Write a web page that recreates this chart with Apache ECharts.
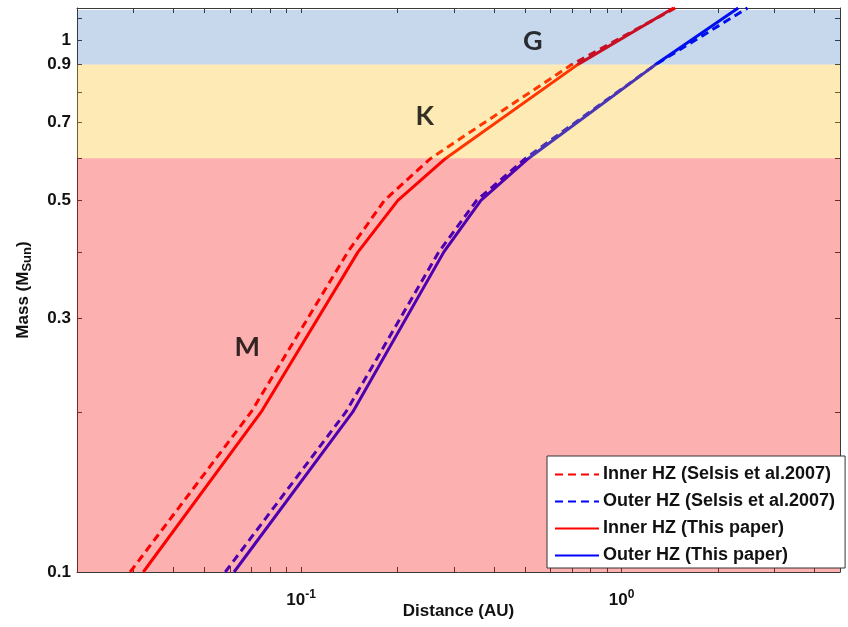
<!DOCTYPE html>
<html>
<head>
<meta charset="utf-8">
<script src="https://cdn.jsdelivr.net/npm/echarts@6/dist/echarts.min.js"></script>
<style>
  html, body { margin: 0; padding: 0; background: #ffffff; }
  #chart { width: 848px; height: 627px; }
</style>
</head>
<body>
<div id="chart"></div>
<script>
// Stellar mass (M_Sun) at each vertex of the habitable-zone boundaries
const massPoints = [0.1, 0.2, 0.4, 0.5, 0.6, 0.9, 1.15];

// Boundary distances (AU) at those masses
const innerSelsis    = [0.0293, 0.0699, 0.140, 0.182, 0.254, 0.699, 1.47];
const outerSelsis    = [0.0580, 0.138, 0.269, 0.353, 0.502, 1.276, 2.47];
const innerThisPaper = [0.0322, 0.0751, 0.1506, 0.2005, 0.283, 0.729, 1.452];
const outerThisPaper = [0.0618, 0.145, 0.279, 0.364, 0.513, 1.276, 2.31];

const seriesNames = [
  'Inner HZ (Selsis et al.2007)',
  'Outer HZ (Selsis et al.2007)',
  'Inner HZ (This paper)',
  'Outer HZ (This paper)'
];

// Spectral-type mass bands [lower, upper] and their letters
const bandRanges = [[0.1, 0.6], [0.6, 0.9], [0.9, 1.14]];
const bandLetters = ['M', 'K', 'G'];
const bandLetterPos = [[0.068, 0.265], [0.243, 0.72], [0.528, 0.995]];

// Axis ticks
const yLabelValues = [0.1, 0.3, 0.5, 0.7, 0.9, 1];
const yTickValues = [0.1, 0.2, 0.3, 0.4, 0.5, 0.6, 0.7, 0.8, 0.9, 1, 1.1];
const xLabelValues = [0.1, 1];
const xTickValues = [0.02, 0.03, 0.04, 0.05, 0.06, 0.07, 0.08, 0.09,
                     0.1, 0.2, 0.3, 0.4, 0.5, 0.6, 0.7, 0.8, 0.9,
                     1, 2, 3, 4];

const X_MIN = 0.02, X_MAX = 4.8, Y_MIN = 0.1, Y_MAX = 1.15;
const RED = '#ff0000', BLUE = '#0000ff';
// translucent washes laid over the curves
const bandColors = ['rgba(248,0,0,0.31)', 'rgba(252,184,0,0.294)', 'rgba(0,74,167,0.216)'];

const FONT = '"Liberation Sans", Arial, sans-serif';
const AXIS_COLOR = '#3a3a3a';
const TEXT_COLOR = '#111111';

function pairs(xs) {
  return xs.map((x, i) => [x, massPoints[i]]);
}

function lineSeries(name, xs, color, dashed) {
  return {
    name: name,
    type: 'line',
    data: pairs(xs),
    symbol: 'none',
    showSymbol: false,
    z: 3,
    lineStyle: { color: color, width: 3, type: dashed ? [8, 5] : 'solid' },
    itemStyle: { color: color },
    animation: false
  };
}

function tickAxis(position, isX) {
  const base = {
    type: 'log',
    logBase: 10,
    position: position,
    gridIndex: 0,
    axisLine: { show: true, lineStyle: { color: AXIS_COLOR, width: 1 } },
    axisTick: {
      show: true, inside: true, length: 5,
      customValues: isX ? xTickValues : yTickValues,
      lineStyle: { color: AXIS_COLOR, width: 1 }
    },
    axisLabel: { show: false },
    splitLine: { show: false }
  };
  if (isX) { base.min = X_MIN; base.max = X_MAX; }
  else { base.min = Y_MIN; base.max = Y_MAX; }
  return base;
}

const xBottom = tickAxis('bottom', true);
xBottom.axisLabel = {
  show: true,
  customValues: xLabelValues,
  margin: 17,
  formatter: v => '10{sup|' + Math.round(Math.log10(v)) + '}',
  rich: {
    sup: { fontSize: 12, fontWeight: 'bold', fontFamily: FONT, color: TEXT_COLOR, verticalAlign: 'top', padding: [0, 0, 10, 0] }
  },
  fontSize: 17, fontWeight: 'bold', fontFamily: FONT, color: TEXT_COLOR
};
xBottom.name = 'Distance (AU)';
xBottom.nameLocation = 'middle';
xBottom.nameGap = 31;
xBottom.nameMoveOverlap = false;
xBottom.nameTextStyle = { fontSize: 17, fontWeight: 'bold', fontFamily: FONT, color: TEXT_COLOR };

const xTop = tickAxis('top', true);

const yLeft = tickAxis('left', false);
yLeft.axisLabel = {
  show: true,
  customValues: yLabelValues,
  margin: 6,
  formatter: v => String(+Number(v).toFixed(2)),
  fontSize: 17, fontWeight: 'bold', fontFamily: FONT, color: TEXT_COLOR
};
yLeft.name = 'Mass (M{sub|Sun})';
yLeft.nameLocation = 'middle';
yLeft.nameGap = 43;
yLeft.nameRotate = 90;
yLeft.nameTextStyle = {
  fontSize: 17, fontWeight: 'bold', fontFamily: FONT, color: TEXT_COLOR,
  rich: { sub: { fontSize: 13, fontWeight: 'bold', fontFamily: FONT, color: TEXT_COLOR, verticalAlign: 'bottom', padding: [9, 0, 0, 0] } }
};

const yRight = tickAxis('right', false);

const option = {
  animation: false,
  backgroundColor: '#ffffff',
  grid: { left: 77, right: 8, top: 8, bottom: 55, containLabel: false, outerBoundsMode: 'none' },
  xAxis: [xBottom, xTop],
  yAxis: [yLeft, yRight],
  legend: {
    show: true,
    data: seriesNames,
    orient: 'vertical',
    left: 547,
    top: 456,
    z: 30,
    padding: [9, 10, 3, 7],
    itemGap: 8,
    itemWidth: 44,
    itemHeight: 2,
    itemStyle: { opacity: 0 },
    backgroundColor: '#ffffff',
    borderColor: '#333333',
    borderWidth: 1,
    borderRadius: 0,
    textStyle: { fontSize: 18, fontWeight: 'bold', fontFamily: FONT, color: TEXT_COLOR, lineHeight: 19, padding: [0, 0, 0, -1] },
    selectedMode: false
  },
  series: [
    lineSeries(seriesNames[0], innerSelsis, RED, true),
    lineSeries(seriesNames[1], outerSelsis, BLUE, true),
    lineSeries(seriesNames[2], innerThisPaper, RED, false),
    lineSeries(seriesNames[3], outerThisPaper, BLUE, false),
    {
      // spectral-type washes over the whole plot width
      type: 'custom',
      z: 10,
      silent: true,
      clip: true,
      data: bandRanges.map(r => [1, r[0], r[1]]),
      encode: { x: 0, y: [1, 2] },
      renderItem: function (params, api) {
        const cs = params.coordSys;
        const yLo = api.coord([1, api.value(1)])[1];
        const yHi = api.coord([1, api.value(2)])[1];
        return {
          type: 'rect',
          shape: { x: cs.x, y: yHi, width: cs.width, height: yLo - yHi },
          style: { fill: bandColors[params.dataIndex] }
        };
      }
    },
    {
      // spectral-type letters
      type: 'scatter',
      z: 20,
      silent: true,
      symbolSize: 2,
      itemStyle: { color: 'rgba(0,0,0,0)' },
      data: bandLetters.map((s, i) => ({ name: s, value: bandLetterPos[i] })),
      label: {
        show: true,
        position: 'inside',
        formatter: p => p.name,
        fontSize: 27,
        fontWeight: 'bold',
        fontFamily: 'Lato, "Open Sans", sans-serif',
        color: '#000000'
      }
    }
  ]
};

const chart = echarts.init(document.getElementById('chart'), null, { renderer: 'canvas' });
chart.setOption(option);
</script>
</body>
</html>
